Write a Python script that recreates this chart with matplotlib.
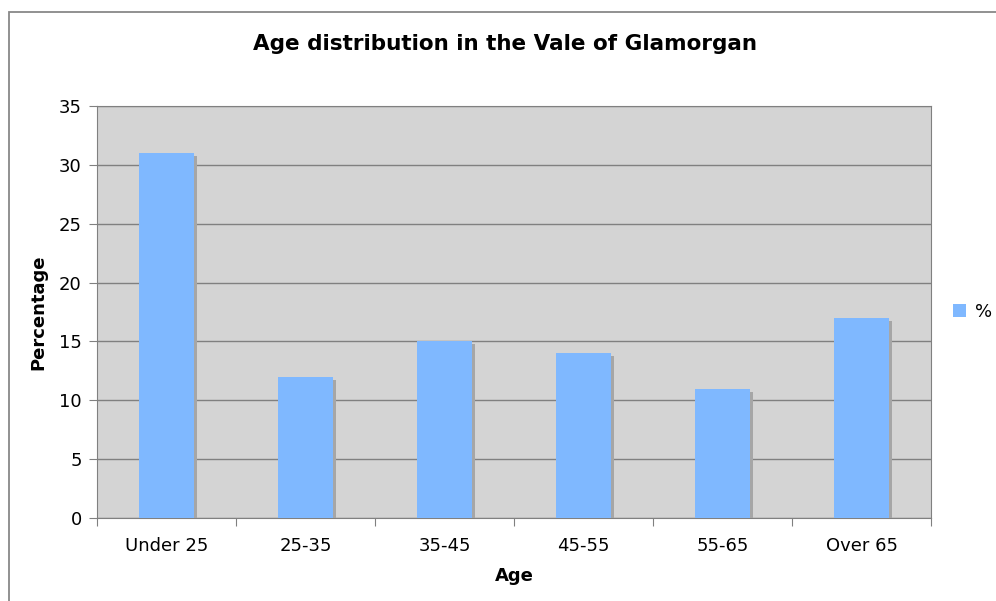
import matplotlib
matplotlib.use('Agg')
import matplotlib.pyplot as plt
import matplotlib.patheffects as pe
from matplotlib.patches import Rectangle, Patch

ages = ['Under 25', '25-35', '35-45', '45-55', '55-65', 'Over 65']
percent = [31, 12, 15, 14, 11, 17]

plt.rcParams.update({'font.family': 'DejaVu Sans', 'font.size': 13})

fig = plt.figure(figsize=(9.96, 6.01), dpi=100)
# outer chart frame (top and left edges visible)
fig.patches.append(Rectangle((9 / 996, -0.1), 1.2, 1 - 11.5 / 601 + 0.1, transform=fig.transFigure,
                             facecolor='none', edgecolor='#888888', linewidth=1.3))

ax = fig.add_axes([97 / 996, 1 - 518 / 601, (931 - 97) / 996, (518 - 106) / 601])
ax.set_facecolor('#d4d4d4')

x = range(len(ages))
bars = ax.bar(x, percent, width=0.4, color='#7fb8ff', zorder=3)
for b in bars:
    b.set_path_effects([pe.SimplePatchShadow(offset=(2.2, -2.2), shadow_rgbFace='#a6a6a6', alpha=1),
                        pe.Normal()])

ax.set_xlim(-0.5, len(ages) - 0.5)
ax.set_ylim(0, 35)
ax.set_yticks(range(0, 36, 5))
ax.set_xticks([i - 0.5 for i in range(len(ages) + 1)], minor=False)
ax.set_xticklabels([])
ax.set_xticks(list(x), minor=True)
ax.set_xticklabels(ages, minor=True)
ax.tick_params(axis='x', which='minor', length=0, pad=14)
ax.tick_params(axis='x', which='major', length=6, color='#808080')
ax.tick_params(axis='y', length=6, color='#808080', pad=5)
ax.grid(axis='y', color='#808080', linewidth=1, zorder=1)
ax.set_axisbelow(True)
for s in ax.spines.values():
    s.set_color('#808080')

ax.set_xlabel('Age', fontweight='bold', labelpad=8)
ax.set_ylabel('Percentage', fontweight='bold', labelpad=8)
fig.text(505 / 996, 1 - 44 / 601, 'Age distribution in the Vale of Glamorgan',
         ha='center', va='center', fontsize=15.5, fontweight='bold')

ax.legend(handles=[Patch(facecolor='#7fb8ff', label='%')], loc='center left',
          bbox_to_anchor=(1.0, 0.5), frameon=False,
          handlelength=0.75, handleheight=0.75, handletextpad=0.5, borderaxespad=0.8)

fig.savefig('out.png', dpi=100)
